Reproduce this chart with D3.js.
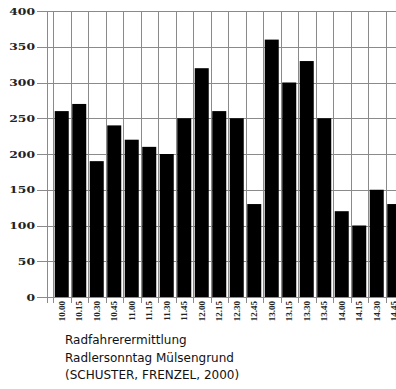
<!doctype html>
<html lang="de">
<head>
<meta charset="utf-8">
<title>Radfahrerermittlung</title>
<script src="https://cdnjs.cloudflare.com/ajax/libs/d3/7.8.5/d3.min.js"></script>
<style>
  html, body { margin: 0; padding: 0; background: #fff; }
  svg { display: block; }
</style>
</head>
<body>
<svg id="svg" width="396" height="389"></svg>
<script>
// Uhrzeiten (15-min-Intervalle) und gezaehlte Radfahrer
var times = ["10.00","10.15","10.30","10.45","11.00","11.15","11.30","11.45",
             "12.00","12.15","12.30","12.45","13.00","13.15","13.30","13.45",
             "14.00","14.15","14.30","14.45"];
var counts = [260, 270, 190, 240, 220, 210, 200, 250,
              320, 260, 250, 130, 360, 300, 330, 250,
              120, 100, 150, 130];
var yTicks = [0, 50, 100, 150, 200, 250, 300, 350, 400];
var caption = ["Radfahrerermittlung",
               "Radlersonntag Mülsengrund",
               "(SCHUSTER, FRENZEL, 2000)"];

var svg = d3.select('#svg');

var x = d3.scaleBand()
  .domain(times)
  .range([53, 403])
  .paddingInner(0.2)
  .paddingOuter(0.1);

var y = d3.scaleLinear()
  .domain([0, 400])
  .range([297, 11]);

var step = x.step();
var grid = '#8a8a8a';

// horizontale Gitterlinien + Ticks links
svg.append('g').selectAll('line')
  .data(yTicks)
  .join('line')
  .attr('x1', 37).attr('x2', 396)
  .attr('y1', function(d) { return Math.round(y(d)) + 0.5; })
  .attr('y2', function(d) { return Math.round(y(d)) + 0.5; })
  .attr('stroke', grid).attr('stroke-width', 1);

// vertikale Gitterlinien zwischen den Balken
var bounds = times.map(function(t) { return x(t) - step * 0.1; });
bounds.push(x(times[times.length - 1]) + x.bandwidth() + step * 0.1);
svg.append('g').selectAll('line')
  .data(bounds)
  .join('line')
  .attr('x1', function(d) { return Math.round(d) + 0.5; })
  .attr('x2', function(d) { return Math.round(d) + 0.5; })
  .attr('y1', 11).attr('y2', 303)
  .attr('stroke', grid).attr('stroke-width', 1);

// doppelte Achslinie links
svg.append('line')
  .attr('x1', 47.5).attr('x2', 47.5)
  .attr('y1', 11).attr('y2', 303)
  .attr('stroke', grid).attr('stroke-width', 1);

// Balken
svg.append('g').selectAll('rect')
  .data(counts)
  .join('rect')
  .attr('x', function(d, i) { return x(times[i]); })
  .attr('width', x.bandwidth())
  .attr('y', function(d) { return y(d); })
  .attr('height', function(d) { return y(0) - y(d); })
  .attr('fill', '#000');

// y-Beschriftung
svg.append('g').selectAll('text')
  .data(yTicks)
  .join('text')
  .attr('transform', function(d) { return 'translate(35,' + (y(d) + 3.5) + ') scale(1.3,1)'; })
  .attr('text-anchor', 'end')
  .attr('font-family', 'DejaVu Serif')
  .attr('font-weight', 'bold')
  .attr('font-size', 9.5)
  .attr('fill', '#222')
  .text(function(d) { return d; });

// x-Beschriftung (gedreht)
svg.append('g').selectAll('text')
  .data(times)
  .join('text')
  .attr('transform', function(d) {
    return 'translate(' + (x(d) + x.bandwidth() / 2 + 3) + ',301) rotate(-90)';
  })
  .attr('text-anchor', 'end')
  .attr('font-family', 'Liberation Serif')
  .attr('font-weight', 'bold')
  .attr('font-size', 9)
  .attr('fill', '#222')
  .text(function(d) { return d; });

// Quelle / Titel
svg.append('g').selectAll('text')
  .data(caption)
  .join('text')
  .attr('x', 65)
  .attr('y', function(d, i) { return 344 + i * 17.5; })
  .attr('font-family', 'DejaVu Sans')
  .attr('font-size', 12)
  .attr('fill', '#111')
  .text(function(d) { return d; });
</script>
</body>
</html>
